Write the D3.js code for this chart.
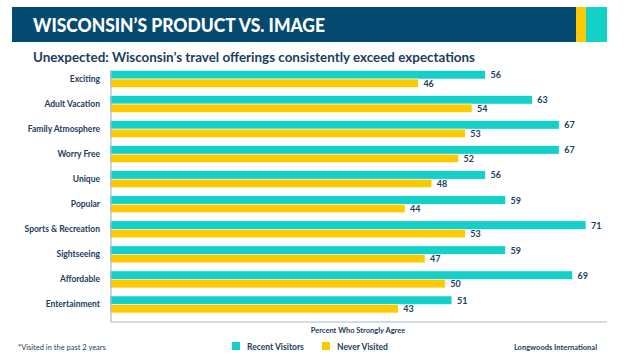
<!DOCTYPE html>
<meta charset="utf-8">
<script src="https://d3js.org/d3.v7.min.js"></script>
<style>
  body { margin: 0; background: #fff; }
  text { font-family: Lato, "Open Sans", sans-serif; fill: #1b3d5e; font-weight: bold; }
</style>
<body>
<svg id="chart" width="624" height="358"></svg>
<script>
  // data
  var categories = ["Exciting", "Adult Vacation", "Family Atmosphere", "Worry Free", "Unique",
                    "Popular", "Sports & Recreation", "Sightseeing", "Affordable", "Entertainment"];
  var recentVisitors = [56, 63, 67, 67, 56, 59, 71, 59, 69, 51];
  var neverVisited   = [46, 54, 53, 52, 48, 44, 53, 47, 50, 43];
  var seriesNames = ["Recent Visitors", "Never Visited"];
  var colors = ["#13d0c9", "#fdca00"];

  var svg = d3.select("#chart");

  // header band
  svg.append("rect").attr("x", 12).attr("y", 7).attr("width", 564).attr("height", 35).attr("fill", "#044a70");
  svg.append("rect").attr("x", 576).attr("y", 7).attr("width", 10).attr("height", 35).attr("fill", colors[1]);
  svg.append("rect").attr("x", 586).attr("y", 7).attr("width", 21).attr("height", 35).attr("fill", colors[0]);

  svg.append("text")
      .attr("x", 33).attr("y", 32)
      .style("fill", "#fff")
      .style("font-size", "19px")
      .style("font-weight", 900)
      .attr("textLength", 292).attr("lengthAdjust", "spacingAndGlyphs")
      .text("WISCONSIN\u2019S PRODUCT VS. IMAGE");

  svg.append("text")
      .attr("x", 33).attr("y", 62)
      .style("font-size", "13px")
      .attr("textLength", 442).attr("lengthAdjust", "spacingAndGlyphs")
      .text("Unexpected: Wisconsin\u2019s travel offerings consistently exceed expectations");

  // scales
  var x = d3.scaleLinear().domain([0, 71]).range([110, 586]);
  var y = d3.scaleBand().domain(categories).range([66.5, 317]).paddingInner(0.32).paddingOuter(0.16);
  var sub = d3.scaleBand().domain(seriesNames).range([0, y.bandwidth()]);

  var rows = categories.map(function(c, i) {
    return { cat: c, vals: [recentVisitors[i], neverVisited[i]] };
  });

  var g = svg.append("g");
  var groups = g.selectAll("g.row").data(rows).enter().append("g")
      .attr("transform", function(d) { return "translate(0," + y(d.cat) + ")"; });

  groups.selectAll("rect").data(function(d) { return d.vals; }).enter().append("rect")
      .attr("x", x(0))
      .attr("y", function(d, i) { return sub(seriesNames[i]); })
      .attr("width", function(d) { return x(d) - x(0); })
      .attr("height", sub.bandwidth())
      .attr("fill", function(d, i) { return colors[i]; })
      .attr("stroke", "#fff")
      .attr("stroke-width", 0.6);

  groups.selectAll("text.val").data(function(d) { return d.vals; }).enter().append("text")
      .attr("class", "val")
      .attr("x", function(d) { return x(d) + 5; })
      .attr("y", function(d, i) { return sub(seriesNames[i]) + sub.bandwidth() / 2 + 3.5; })
      .style("font-size", "9px")
      .text(function(d) { return d; });

  // category labels
  groups.append("text")
      .attr("x", 100)
      .attr("y", y.bandwidth() / 2 + 3)
      .attr("text-anchor", "end")
      .style("font-size", "8.5px")
      .text(function(d) { return d.cat; });

  // axis lines
  svg.append("line").attr("x1", 111).attr("x2", 111).attr("y1", 70).attr("y2", 322)
      .attr("stroke", "#a9bccb").attr("stroke-width", 1.2);
  svg.append("line").attr("x1", 111).attr("x2", 607).attr("y1", 322).attr("y2", 322)
      .attr("stroke", "#a9bccb").attr("stroke-width", 1.2);

  svg.append("text")
      .attr("x", 358).attr("y", 333)
      .attr("text-anchor", "middle")
      .style("font-size", "7.5px")
      .text("Percent Who Strongly Agree");

  // legend
  var legX = [232, 322];
  seriesNames.forEach(function(s, i) {
    svg.append("rect").attr("x", legX[i]).attr("y", 342).attr("width", 8).attr("height", 8).attr("fill", colors[i]);
    svg.append("text").attr("x", legX[i] + 15).attr("y", 350).style("font-size", "8.5px").text(s);
  });

  svg.append("text").attr("x", 18).attr("y", 350).style("font-size", "7.5px").style("font-weight", "normal")
      .text("*Visited in the past 2 years");
  svg.append("text").attr("x", 597).attr("y", 350).attr("text-anchor", "end").style("font-size", "7.5px")
      .text("Longwoods International");
</script>
</body>
